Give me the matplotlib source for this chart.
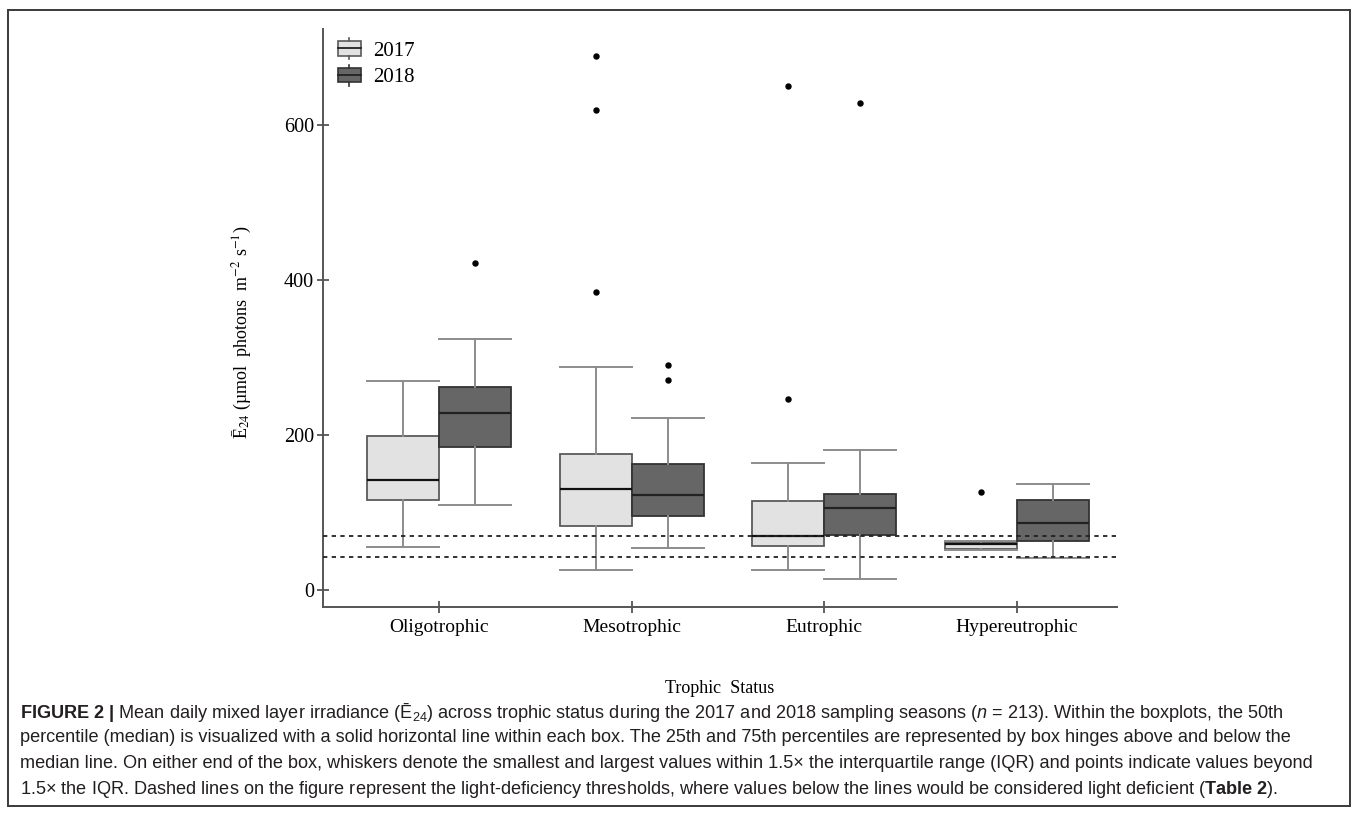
"""Boxplots of mean daily mixed layer irradiance by trophic status, with caption."""

import matplotlib

matplotlib.use("Agg")
import matplotlib.pyplot as plt
from matplotlib import font_manager
from matplotlib.legend_handler import HandlerBase
from matplotlib.lines import Line2D
from matplotlib.patches import Patch, Rectangle

# ---- data ----
categories = ["Oligotrophic", "Mesotrophic", "Eutrophic", "Hypereutrophic"]
years = ["2017", "2018"]

whislo_2017 = [55, 26, 26, 52]
q1_2017 = [116, 83, 57, 53]
med_2017 = [142, 130, 70, 59]
q3_2017 = [199, 176, 115, 62]
whishi_2017 = [270, 288, 164, 63]
fliers_2017 = [[], [385, 619, 689], [246, 650], [126]]

whislo_2018 = [110, 54, 14, 41]
q1_2018 = [185, 96, 71, 63]
med_2018 = [228, 123, 106, 86]
q3_2018 = [262, 163, 124, 116]
whishi_2018 = [324, 222, 181, 137]
fliers_2018 = [[422], [271, 290], [628], []]

thresholds = [43, 70]
y_ticks = [0, 200, 400, 600]

caption_lines = [
    r"$\mathbf{FIGURE\ 2\ |}$ Mean daily mixed layer irradiance (Ē$_{24}$) across trophic status "
    r"during the 2017 and 2018 sampling seasons ($\mathit{n}$ = 213). Within the boxplots, the 50th",
    "percentile (median) is visualized with a solid horizontal line within each box. The 25th and "
    "75th percentiles are represented by box hinges above and below the",
    "median line. On either end of the box, whiskers denote the smallest and largest values within "
    "1.5× the interquartile range (IQR) and points indicate values beyond",
    "1.5× the IQR. Dashed lines on the figure represent the light-deficiency thresholds, where values "
    r"below the lines would be considered light deficient ($\mathbf{Table\ 2}$).",
]

# ---- fonts ----
installed = {f.name for f in font_manager.fontManager.ttflist}
CAP_FONT = "Liberation Sans Narrow" if "Liberation Sans Narrow" in installed else "Liberation Sans"
CAP_SIZE = 15.5 if CAP_FONT == "Liberation Sans Narrow" else 13.1
SERIF = "Liberation Serif"
plt.rcParams["font.family"] = [SERIF, "DejaVu Serif"]
plt.rcParams["mathtext.fontset"] = "custom"
plt.rcParams["mathtext.rm"] = CAP_FONT
plt.rcParams["mathtext.it"] = CAP_FONT + ":italic"
plt.rcParams["mathtext.bf"] = CAP_FONT + ":bold"

COL_2017 = "#e2e2e2"
EDGE_2017 = "#5a5a5a"
COL_2018 = "#666666"
EDGE_2018 = "#333333"
WHISK = "#8c8c8c"


def _stats(lo, q1, med, q3, hi, fl):
    return [
        dict(whislo=a, q1=b, med=c, q3=d, whishi=e, fliers=f, label="")
        for a, b, c, d, e, f in zip(lo, q1, med, q3, hi, fl)
    ]


class BoxHandler(HandlerBase):
    """Legend glyph drawn as a tiny box with median and whisker stubs."""

    def create_artists(self, legend, orig_handle, xdescent, ydescent, width, height, fontsize, trans):
        fc = orig_handle.get_facecolor()
        ec = orig_handle.get_edgecolor()
        x0 = -xdescent
        y0 = -ydescent
        b0 = y0 + height * 0.17
        b1 = y0 + height * 0.83
        mid = (b0 + b1) / 2
        cx = x0 + width / 2
        rect = Rectangle((x0, b0), width, b1 - b0, facecolor=fc, edgecolor=ec, lw=1.2, transform=trans)
        med = Line2D([x0, x0 + width], [mid, mid], color="#222222", lw=1.3, transform=trans)
        top = Line2D([cx, cx], [b1, y0 + height], color=ec, lw=1.2, transform=trans)
        bot = Line2D([cx, cx], [y0, b0], color=ec, lw=1.2, transform=trans)
        return [rect, med, top, bot]


fig = plt.figure(figsize=(13.6, 8.17), dpi=100)
W, H = 1360, 817

# outer frame around chart and caption
fig.patches.append(
    Rectangle((8 / W, 1 - 806 / H), 1342 / W, 796 / H, transform=fig.transFigure,
              fill=False, edgecolor="#3a3a3a", lw=1.4)
)

ax = fig.add_axes([323 / W, 1 - 607 / H, 794 / W, 578 / H])

pos = list(range(1, len(categories) + 1))
off = 0.187
width = 0.374

box_common = dict(
    widths=width,
    patch_artist=True,
    whiskerprops=dict(color=WHISK, lw=1.4),
    flierprops=dict(marker="o", markerfacecolor="black", markeredgecolor="black", markersize=3.6),
    manage_ticks=False,
    zorder=2,
)
ax.bxp(
    _stats(whislo_2017, q1_2017, med_2017, q3_2017, whishi_2017, fliers_2017),
    positions=[p - off for p in pos],
    boxprops=dict(facecolor=COL_2017, edgecolor=EDGE_2017, lw=1.3),
    medianprops=dict(color="#111111", lw=1.6),
    capprops=dict(color=WHISK, lw=1.4),
    capwidths=width,
    **box_common,
)
ax.bxp(
    _stats(whislo_2018, q1_2018, med_2018, q3_2018, whishi_2018, fliers_2018),
    positions=[p + off for p in pos],
    boxprops=dict(facecolor=COL_2018, edgecolor=EDGE_2018, lw=1.3),
    medianprops=dict(color="#222222", lw=1.6),
    capprops=dict(color=WHISK, lw=1.4),
    capwidths=width,
    **box_common,
)

for t in thresholds:
    ax.axhline(t, color="#222222", lw=1.3, linestyle=(0, (2.4, 2.4)), zorder=3)

ax.set_xlim(0.398, 4.519)
ax.set_ylim(-22, 724)
ax.set_xticks(pos)
ax.set_xticklabels(categories, fontsize=14)
ax.set_yticks(y_ticks)
ax.set_yticklabels([str(v) for v in y_ticks], fontsize=14.5)

for side in ["top", "right"]:
    ax.spines[side].set_visible(False)
for side in ["left", "bottom"]:
    ax.spines[side].set_color("#555555")
    ax.spines[side].set_linewidth(1.4)
ax.tick_params(axis="both", direction="inout", length=9, width=1.3, color="#555555", pad=2)
ax.tick_params(axis="x", pad=4)

ax.set_xlabel("Trophic  Status", fontsize=13)
ax.xaxis.set_label_coords(0.5, -0.126)
ax.set_ylabel("Ē$_{24}$ (µmol  photons  m$^{-2}$ s$^{-1}$)", fontsize=13, math_fontfamily="stix")
ax.yaxis.set_label_coords(-0.088, 0.476)

handles = [
    Patch(facecolor=COL_2017, edgecolor=EDGE_2017, label=years[0]),
    Patch(facecolor=COL_2018, edgecolor=EDGE_2018, label=years[1]),
]
ax.legend(
    handles=handles,
    handler_map={Patch: BoxHandler()},
    loc="upper left",
    bbox_to_anchor=(0.0, 1.01),
    frameon=False,
    fontsize=15,
    handlelength=1.1,
    handleheight=1.2,
    handletextpad=0.6,
    labelspacing=0.2,
    borderaxespad=0.3,
)

# caption
cap_y = [712, 738, 763, 789]
for line, y in zip(caption_lines, cap_y):
    fig.text(20 / W, 1 - y / H, line, ha="left", va="center", fontsize=CAP_SIZE,
             family=CAP_FONT, color="#231f20", math_fontfamily="custom")

fig.savefig("out.png", dpi=100)
plt.close(fig)
